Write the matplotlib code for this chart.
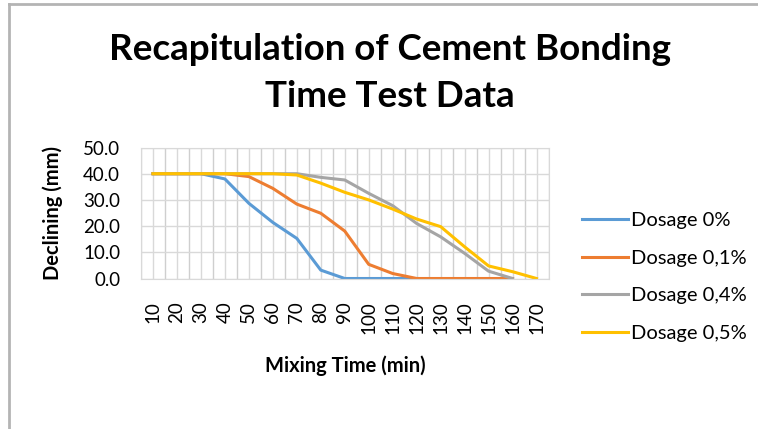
import numpy as np
import matplotlib
matplotlib.use('Agg')
import matplotlib.pyplot as plt

plt.rcParams['font.family'] = ['Lato', 'DejaVu Sans']

# data
mixing_time = [10, 20, 30, 40, 50, 60, 70, 80, 90, 100, 110, 120, 130, 140, 150, 160, 170]
dosage_0 = [40, 40, 40, 38, 28.7, 21.4, 15.3, 3.2, 0, 0, 0, 0, None, None, None, None, None]
dosage_01 = [40, 40, 40, 40, 38.9, 34.4, 28.4, 24.9, 18.1, 5.4, 1.9, 0, 0, 0, 0, 0, None]
dosage_04 = [40, 40, 40, 40, 40, 40, 40, 38.6, 37.6, 32.5, 27.8, 21.0, 15.9, 9.6, 2.8, 0, None]
dosage_05 = [40, 40, 40, 40, 40, 40, 39.5, 36.4, 32.9, 30.0, 26.5, 22.7, 19.8, 12.1, 4.8, 2.6, 0]

series = [
    ('Dosage 0%', dosage_0, '#5b9bd5'),
    ('Dosage 0,1%', dosage_01, '#ed7d31'),
    ('Dosage 0,4%', dosage_04, '#a5a5a5'),
    ('Dosage 0,5%', dosage_05, '#ffc000'),
]

W, H = 758, 429
fig = plt.figure(figsize=(W / 100, H / 100), dpi=100)

# outer frame (left, top)
fig.add_artist(plt.Line2D([9 / W, 9 / W], [0, 1 - 4 / H], color='#b4b4b4', lw=2, transform=fig.transFigure))
fig.add_artist(plt.Line2D([9 / W, 1], [1 - 4 / H, 1 - 4 / H], color='#b4b4b4', lw=2, transform=fig.transFigure))

ax = fig.add_axes([141 / W, 1 - 278.5 / H, (548.5 - 141) / W, (278.5 - 147.5) / H])

x = np.arange(len(mixing_time))
for name, vals, col in series:
    y = np.array([np.nan if v is None else v for v in vals], dtype=float)
    ax.plot(x, y, color=col, lw=2.2, label=name, solid_joinstyle='round')

ax.set_xlim(-0.5, len(mixing_time) - 0.5)
ax.set_ylim(0, 50)
ax.set_yticks(np.arange(0, 51, 10))
ax.set_yticklabels([f'{v:.1f}' for v in np.arange(0, 51, 10)], fontsize=13.5)
ax.set_xticks(x)
ax.set_xticklabels([str(t) for t in mixing_time], rotation=90, fontsize=13.5)
ax.set_xticks(np.arange(-0.5, len(mixing_time)), minor=True)
ax.tick_params(axis='both', which='both', length=0)
ax.tick_params(axis='x', pad=16.5)
ax.tick_params(axis='y', pad=15)

ax.grid(True, which='major', color='#d9d9d9', lw=1)
ax.grid(True, which='minor', axis='x', color='#cfcfcf', lw=1)
ax.set_axisbelow(True)
for s in ax.spines.values():
    s.set_color('#d9d9d9')

ax.set_xlabel('Mixing Time (min)', fontsize=14.5, fontweight='bold')
ax.xaxis.set_label_coords((345 - 141) / (548.5 - 141), -(366 - 278.5) / (278.5 - 147.5))
ax.xaxis.label.set_va('center')
ax.set_ylabel('Declining (mm)', fontsize=14.5, fontweight='bold')
ax.yaxis.set_label_coords(-(141 - 53) / (548.5 - 141), 0.5)
ax.yaxis.label.set_va('center')

fig.text(390 / W, 1 - 73 / H, 'Recapitulation of Cement Bonding\nTime Test Data',
         ha='center', va='center', fontsize=26.5, fontweight='bold', linespacing=1.5)

fig.legend(loc='center left', bbox_to_anchor=(564 / W, 1 - 277 / H), frameon=False,
           fontsize=14.5, handlelength=2.3, handletextpad=0.15, labelspacing=1.03)

fig.savefig('out.png', dpi=100)
